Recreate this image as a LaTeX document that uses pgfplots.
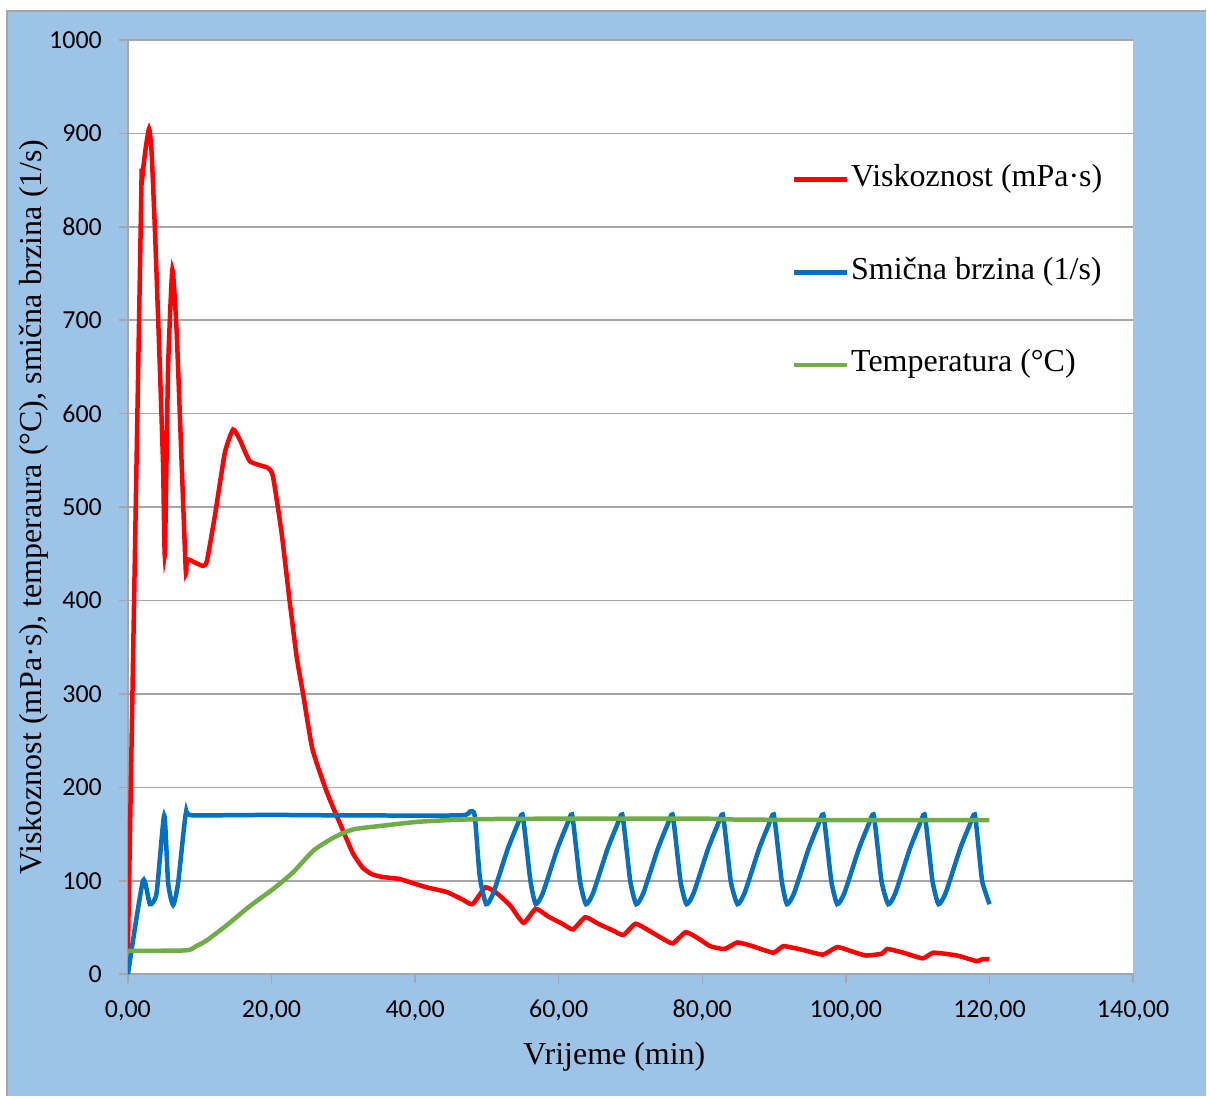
\documentclass[border=0pt]{standalone}
\usepackage{fontspec}
\setmainfont{Liberation Serif}
\newfontfamily\tickfont{Carlito}
\usepackage{pgfplots}
\pgfplotsset{compat=1.18}
\definecolor{bgblue}{HTML}{9DC3E6}
\definecolor{gridgray}{HTML}{A6A6A6}
\definecolor{vred}{HTML}{FF0000}
\definecolor{sblue}{HTML}{0070C0}
\definecolor{tgreen}{HTML}{70AD47}
\begin{document}
\begin{tikzpicture}
\fill[white] (0,0) rectangle (603.5pt,548.5pt);
\fill[bgblue] (3.75pt,0) rectangle (603.5pt,543pt);
\draw[gridgray, line width=1pt] (3.75pt,0) -- (3.75pt,543pt) -- (603.5pt,543pt);
\begin{axis}[
  at={(64pt,61pt)}, anchor=south west,
  scale only axis, width=503pt, height=467.5pt,
  xmin=0, xmax=140, ymin=0, ymax=1000,
  xtick={0,20,...,140}, ytick={0,100,...,1000},
  axis x line*=bottom, axis y line*=left,
  axis line style={gridgray, line width=0.75pt, -},
  tick style={gridgray, line width=0.75pt},
  major tick length=4.5pt, tick align=outside,
  ymajorgrids, grid style={gridgray, line width=0.75pt},
  axis background/.style={fill=white},
  /pgf/number format/assume math mode=true,
  ticklabel style={font=\tickfont\fontsize{13}{15}\selectfont, text=black},
  xticklabel style={yshift=-5pt, /pgf/number format/.cd, fixed, fixed zerofill, precision=2, use comma},
  yticklabel style={xshift=-5pt, /pgf/number format/.cd, fixed, 1000 sep={}},
  xlabel={Vrijeme (min)},
  ylabel={Viskoznost (mPa·s), temperaura (°C), smična brzina (1/s)},
  xlabel style={font=\fontsize{16}{19}\selectfont, at={(axis description cs:0.484,-0.0963)}, anchor=base},
  ylabel style={font=\fontsize{16}{19}\selectfont, at={(axis description cs:-0.0855,0.5)}, anchor=base},
  legend style={at={(axis description cs:0.660,0.869)}, anchor=north west, draw=none, fill=none,
    font=\fontsize{16}{19}\selectfont, row sep=29.3pt, inner sep=0pt,
    nodes={inner sep=1pt, text height=11pt, text depth=4pt}},
  legend cell align=left,
  legend image code/.code={\draw[#1] (0pt,0pt) -- (26.5pt,0pt);},
]
\addplot[vred, line width=2.25pt, smooth, tension=0.3] coordinates {
(0,25) (1.85,828) (1.9,845) (2.4,880) (2.95,905) (3.3,880) (3.8,790) (4.45,650) (4.9,545) (5.15,449)
(5.6,650) (6.2,754) (6.8,686) (7.5,544) (8.07,431) (8.25,444) (9.5,440) (10.5,437) (11.0,442)
(12.1,490) (13.5,558) (14.65,583) (15.6,572) (17.0,549) (19.5,542) (20.2,533) (21.4,473) (22.5,401)
(23.5,340) (24.4,300) (25.7,241) (27.7,195) (29.5,162) (31.3,130) (32.7,114) (34,107) (35.5,104)
(37.8,102) (39.5,98) (41.6,93) (44.4,88) (46.6,80) (48.0,75) (49.8,93) (51.5,86) (53.3,73) (55.1,55)
(56.8,70) (58.5,62) (60.5,54) (62.0,48) (63.7,61) (65.5,54) (67.5,47) (69.0,42) (70.7,54) (72.5,47)
(74.5,38) (75.9,33) (77.7,45) (79.5,38) (81.1,30) (83.1,27) (84.9,34) (87,30) (89.9,23) (91.3,30)
(94,26) (96.8,21) (98.8,29) (101,24) (102.8,20) (105.0,22) (105.8,27) (108,23) (110.7,17) (112.2,23)
(115.5,20) (118.2,14) (119,16) (120,16)
};
\addlegendentry{Viskoznost (mPa·s)}
\addplot[sblue, line width=2.25pt, smooth, tension=0.35] coordinates {
(0,0) (2.1,100) (3.06,75) (4.0,87) (5.06,170) (5.6,98) (6.3,74) (7.0,98) (8.07,172) (9,170)
(20,170.5) (30,170) (46.2,170) (47.6,174) (48.3,170) (49.0,105)
(49.9,75) (50.9,87) (52.9,134) (54.2,159) (54.95,171) (55.55,134) (56.1,98)
(56.8,75) (57.8,87) (59.8,134) (61.1,159) (61.85,171) (62.45,134) (63.0,98)
(63.8,75) (64.8,87) (66.8,134) (68.1,159) (68.85,171) (69.45,134) (70.0,98)
(70.8,75) (71.8,87) (73.8,134) (75.1,159) (75.85,171) (76.45,134) (77.0,98)
(77.8,75) (78.8,87) (80.8,134) (82.1,159) (82.85,171) (83.45,134) (84.0,98)
(84.9,75) (85.9,87) (87.9,134) (89.2,159) (89.95,171) (90.55,134) (91.1,98)
(91.8,75) (92.8,87) (94.8,134) (96.1,159) (96.85,171) (97.45,134) (98.0,98)
(98.8,75) (99.8,87) (101.8,134) (103.1,159) (103.85,171) (104.45,134) (105.0,98)
(105.9,75) (106.9,87) (108.9,134) (110.2,159) (110.95,171) (111.55,134) (112.1,98)
(112.9,75) (113.9,87) (115.9,134) (117.2,159) (117.95,171) (118.5,134) (119.0,99) (120,75)
};
\addlegendentry{Smična brzina (1/s)}
\addplot[tgreen, line width=2.25pt, smooth, tension=0.35] coordinates {
(0,25) (8.07,25.5) (9.5,30) (10.95,36) (13.7,52) (17.0,73) (20.2,91) (23.0,109) (25.8,132)
(28.6,146) (31.4,155) (35.5,159) (40.2,163) (44.8,165) (49.4,166) (60,166.5) (80,166.5)
(85,165.5) (100,165) (120,165)
};
\addlegendentry{Temperatura (°C)}
\end{axis}
\end{tikzpicture}
\end{document}
